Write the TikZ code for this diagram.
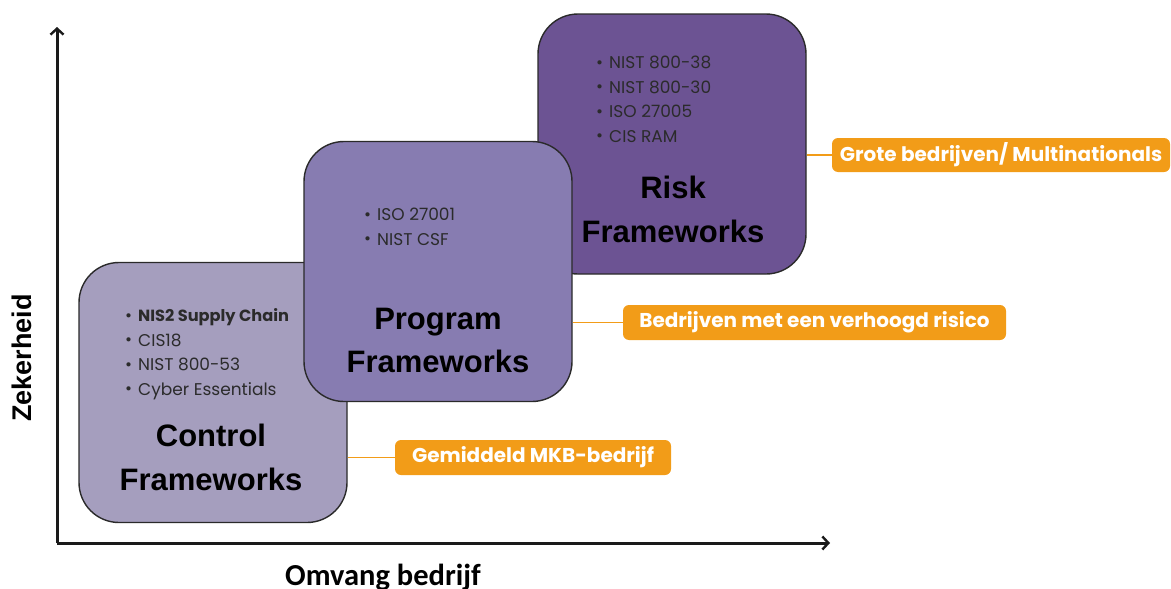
\documentclass[tikz,border=0pt]{standalone}
\usepackage{fontspec}
\setmainfont{Liberation Sans}
\newfontfamily\popfont{Poppins}
\newfontfamily\carlfont{Carlito}
\usetikzlibrary{arrows.meta}
\definecolor{ctrlfill}{HTML}{A59EBE}
\definecolor{progfill}{HTML}{877CB1}
\definecolor{riskfill}{HTML}{6C5393}
\definecolor{boxline}{HTML}{2A2A2A}
\definecolor{orangelab}{HTML}{F29C18}
\definecolor{bullettext}{HTML}{2B2B2B}
\definecolor{axiscol}{HTML}{1A1A1A}
\tikzset{
  fwbox/.style={draw=boxline, line width=1.4pt, rounded corners=40pt, minimum width=268pt, minimum height=260pt, inner sep=0pt},
  bul/.style={anchor=base west, inner sep=0pt, text=bullettext, font=\popfont\fontsize{17}{20}\selectfont},
  title/.style={anchor=base, inner sep=0pt, text=black, font=\bfseries\fontsize{31}{36}\selectfont},
  lab/.style={fill=orangelab, rounded corners=6pt, text=white, inner sep=0pt, minimum height=34pt, font=\popfont\bfseries\fontsize{20}{24}\selectfont},
  labline/.style={draw=orangelab, line width=1.2pt},
  axis/.style={draw=axiscol, line width=3pt, -{Straight Barb[length=6pt,width=13pt,line width=2.4pt]}}
}
\newcommand{\bl}[1]{\makebox[13pt][l]{\raisebox{0.3pt}{\fontsize{17}{17}\selectfont•}}#1}
\begin{document}
\begin{tikzpicture}[x=1pt,y=-1pt]
\useasboundingbox (0,0) rectangle (1171,589);
% axes
\coordinate (origin) at (57,543);
\coordinate (ytop) at (57,27);
\coordinate (xend) at (830,543);
\draw[axis] (origin) -- (ytop);
\draw[axis] (origin) -- (xend);
\node[inner sep=0pt, rotate=90, font=\bfseries\fontsize{27}{32}\selectfont] (ylab) at (22,358) {Zekerheid};
\node[inner sep=0pt, anchor=base, font=\carlfont\bfseries\fontsize{30.5}{34}\selectfont] (xlab) at (383,585) {Omvang bedrijf};
% boxes
\node[fwbox, fill=ctrlfill] (ctrl) at (213,392.5) {};
\node[fwbox, fill=riskfill] (risk) at (672,144) {};
\node[fwbox, fill=progfill] (prog) at (438,271.5) {};
% risk content
\node[bul] (r1) at (596,68.5) {\bl{NIST 800-38}};
\node[bul] (r2) at (596,93) {\bl{NIST 800-30}};
\node[bul] (r3) at (596,117.5) {\bl{ISO 27005}};
\node[bul] (r4) at (596,142) {\bl{CIS RAM}};
\node[title] (rt1) at (673,198) {Risk};
\node[title] (rt2) at (673,242.5) {Frameworks};
% program content
\node[bul] (p1) at (364,220.5) {\bl{ISO 27001}};
\node[bul] (p2) at (364,245) {\bl{NIST CSF}};
\node[title] (pt1) at (438,329) {Program};
\node[title] (pt2) at (438,372) {Frameworks};
% control content
\node[bul] (c1) at (125,321.5) {\bl{\bfseries\fontsize{16.2}{20}\selectfont NIS2 Supply Chain}};
\node[bul] (c2) at (125,346) {\bl{CIS18}};
\node[bul] (c3) at (125,370.5) {\bl{NIST 800-53}};
\node[bul] (c4) at (125,395) {\bl{Cyber Essentials}};
\node[title] (ct1) at (211,446) {Control};
\node[title] (ct2) at (211,490) {Frameworks};
% labels
\node[lab, minimum width=338pt] (l1) at (1001,155) {Grote bedrijven/ Multinationals};
\node[lab, minimum width=383pt, minimum height=35pt] (l2) at (814.5,322.5) {Bedrijven met een verhoogd risico};
\node[lab, minimum width=276pt, minimum height=35pt] (l3) at (533,457.5) {Gemiddeld MKB-bedrijf};
\draw[labline] (l1.west -| risk.east) -- (l1.west);
\draw[labline] (l2.west -| prog.east) -- (l2.west);
\draw[labline] (l3.west -| ctrl.east) -- (l3.west);
\end{tikzpicture}
\end{document}
